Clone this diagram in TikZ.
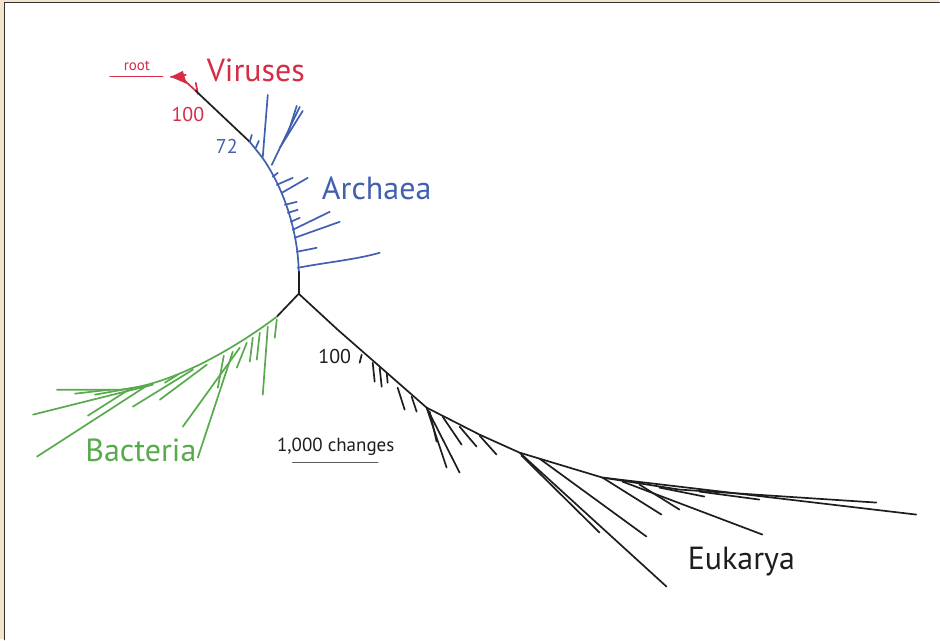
\documentclass[tikz,border=0pt]{standalone}
\usepackage{fontspec}
\setmainfont{PT Sans}
\definecolor{bg}{RGB}{244,228,204}
\definecolor{frm}{RGB}{50,50,50}
\definecolor{vred}{RGB}{214,44,70}
\definecolor{ablue}{RGB}{66,96,176}
\definecolor{bgreen}{RGB}{88,170,76}
\definecolor{ek}{RGB}{30,30,30}
\definecolor{sbar}{RGB}{90,90,90}
\begin{document}
\begin{tikzpicture}[x=1pt,y=-1pt, line cap=round, line join=round,
  br/.style={line width=1.7pt},
  lab/.style={inner sep=0pt, anchor=base, font=\fontsize{32}{34}\selectfont},
  num/.style={inner sep=0pt, anchor=base, font=\fontsize{20}{22}\selectfont}]
% background and frame
\fill[bg] (0,0) rectangle (940,640);
\fill[white] (4.5,2.5) rectangle (940,640);
\draw[frm, line width=1.6pt] (4.5,640) -- (4.5,2.5) -- (940,2.5);
\useasboundingbox (0,0) rectangle (940,640);

% key points
\coordinate (R) at (183,79);
\coordinate (A0) at (250,142);
\coordinate (A1) at (262,157);
\coordinate (AE) at (299,272);
\coordinate (J) at (299,294);
\coordinate (B0) at (277,317);
\coordinate (E1) at (338,330);
\coordinate (E2) at (427,408);
\coordinate (E3) at (480,435);
\coordinate (E4) at (520,453);
\coordinate (E5) at (603,478);
\coordinate (E6) at (680,490);

% ---------- root and viruses ----------
\draw[vred, line width=1.1pt] (110,77) -- (163,77);
\node[inner sep=0pt, anchor=base, vred, font=\fontsize{15}{16}\selectfont] (rootlab) at (137,71) {root};
\fill[vred] (171,77) -- (183,71) -- (187,84) -- cycle;
\draw[vred, br] (171,77) -- (186,75);
\draw[vred, br] (198,94) -- (196,83);
\draw[vred, br] (R) -- (196,91);
\draw[ek, br] (196,91) -- (A0);
\node[lab, vred] (vir) at (256,82) {Viruses};
\node[num, vred] (n100a) at (188,122) {100};
\node[num, ablue] (n72) at (227,154) {72};

% ---------- Archaea ----------
\begin{scope}[ablue, br]
\draw (A0) -- (A1) .. controls (280,182) and (298,225) .. (AE);
\draw (250,142) -- (252,135);
\draw (256,148) -- (259,141);
\draw (263,157) -- (268,95);
\draw (272,165) -- (285,138) -- (300,107);
\draw (280,148) -- (303,111);
\draw (288,134) -- (297,106);
\draw (273,177) -- (278,173);
\draw (277,185) -- (293,178);
\draw (282,193) -- (308,178);
\draw (285,205) -- (297,202);
\draw (288,213) -- (298,210);
\draw (291,222) -- (300,218);
\draw (293,230) -- (330,212);
\draw (295,238) -- (340,222);
\draw (297,252) -- (317,248);
\draw (298,268) .. controls (330,262) and (355,260) .. (380,253);
\end{scope}
\draw[ek, br] (AE) -- (J);
\node[lab, ablue] (arch) at (377,200) {Archaea};

% ---------- Bacteria ----------
\draw[ek, br] (J) -- (B0);
\begin{scope}[bgreen, br]
\draw (B0) .. controls (240,345) and (175,385) .. (120,390) -- (57,390);
\draw (277,320) -- (275,338);
\draw (268,327) -- (263,395);
\draw (260,333) -- (257,360);
\draw (253,338) -- (250,362);
\draw (247,343) -- (237,368);
\draw (240,348) -- (183,427);
\draw (233,352) -- (198,458);
\draw (224,356) -- (218,388);
\draw (207,365) -- (160,400);
\draw (193,370) -- (133,407);
\draw (178,375) -- (165,383);
\draw (153,385) -- (33,415);
\draw (147,386) -- (37,457);
\draw (132,388) -- (88,416);
\draw (140,387) -- (95,395);
\draw (110,390) -- (75,394);
\end{scope}
\node[lab, bgreen] (bact) at (141,462) {Bacteria};

% ---------- Eukarya ----------
\begin{scope}[ek, br]
\draw (J) -- (E1) -- (E2) -- (E3) -- (E4) -- (E5) -- (E6) -- (877,503);
\draw (E5) -- (917,515);
\draw (362,355) -- (360,363);
\draw (373,363) -- (375,382);
\draw (380,368) -- (382,387);
\draw (387,373) -- (388,383);
\draw (398,388) -- (405,410);
\draw (412,397) -- (417,412);
\draw (E2) -- (460,473);
\draw (E2) -- (447,468);
\draw (430,412) -- (437,442);
\draw (443,417) -- (462,445);
\draw (460,427) -- (477,447);
\draw (480,436) -- (497,455);
\draw (E4) -- (667,587);
\draw (522,456) -- (600,533);
\draw (540,459) -- (647,537);
\draw (E5) -- (662,515);
\draw (623,482) -- (763,535);
\draw (640,485) -- (680,510);
\draw (660,488) -- (705,497);
\draw (700,492) -- (760,500);
\end{scope}
\node[lab, ek] (euk) at (742,570) {Eukarya};
\node[num, ek] (n100b) at (335,364) {100};

% ---------- scale bar ----------
\node[inner sep=0pt, anchor=base, ek, font=\fontsize{19}{21}\selectfont] (scl) at (336,452) {1,000 changes};
\coordinate (s1) at (293,463);
\coordinate (s2) at (378,463);
\draw[sbar, line width=1.4pt] (s1) -- (s2);
\end{tikzpicture}
\end{document}
